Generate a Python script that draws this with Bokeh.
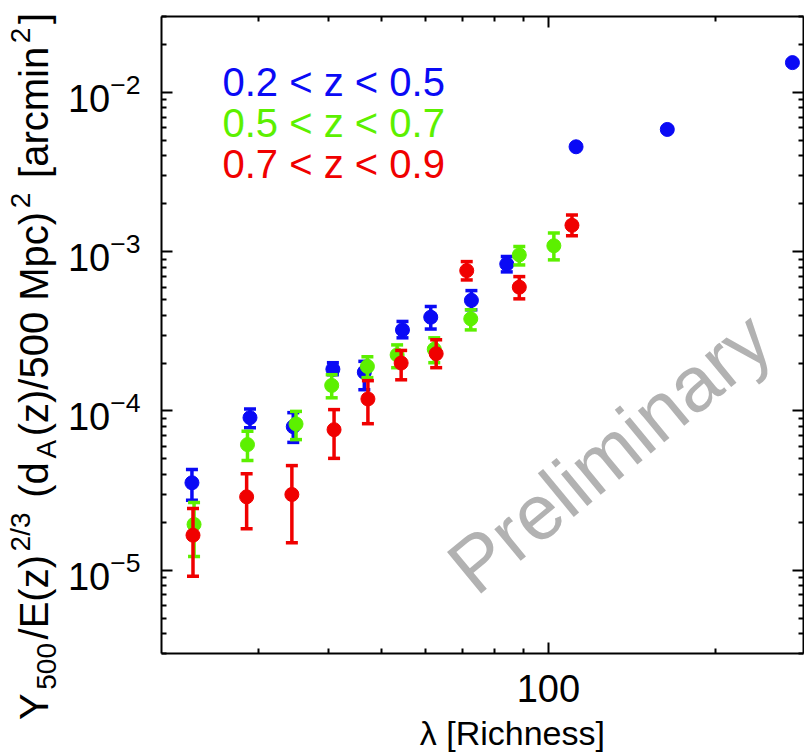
import math
from bokeh.plotting import figure
from bokeh.layouts import row, column
from bokeh.models import (Label, LogAxis, FixedTicker, BasicTickFormatter,
                          CustomJSTickFormatter, Range1d)
from bokeh.embed import file_html
from bokeh.resources import INLINE

# ---------------- data ----------------
lam_b = [22.7, 28.9, 34.6, 40.8, 46.5, 54.5, 61.3, 72.6, 84.1, 112.2, 164.0, 276.0]
y_b = [3.54e-5, 9.08e-5, 7.97e-5, 1.83e-4, 1.75e-4, 3.23e-4, 3.88e-4, 4.95e-4, 8.36e-4, 4.56e-3, 5.86e-3, 1.54e-2]
lo_b = [2.75e-5, 7.86e-5, 6.35e-5, 1.69e-4, 1.36e-4, 2.88e-4, 3.27e-4, 4.32e-4, 7.47e-4, 4.42e-3, 5.68e-3, 1.49e-2]
hi_b = [4.29e-5, 1.03e-4, 9.76e-5, 2.01e-4, 2.05e-4, 3.65e-4, 4.53e-4, 5.70e-4, 9.32e-4, 4.70e-3, 6.04e-3, 1.59e-2]

lam_g = [22.9, 28.6, 35.0, 40.6, 47.1, 53.3, 62.2, 72.4, 88.6, 102.3]
y_g = [1.94e-5, 6.15e-5, 8.29e-5, 1.447e-4, 1.904e-4, 2.25e-4, 2.44e-4, 3.79e-4, 9.55e-4, 1.09e-3]
lo_g = [1.22e-5, 4.88e-5, 6.61e-5, 1.21e-4, 1.62e-4, 1.87e-4, 2.01e-4, 3.23e-4, 8.26e-4, 8.89e-4]
hi_g = [2.66e-5, 7.45e-5, 9.94e-5, 1.69e-4, 2.19e-4, 2.60e-4, 2.88e-4, 4.32e-4, 1.08e-3, 1.31e-3]

lam_r = [22.8, 28.5, 34.4, 41.0, 47.2, 54.2, 62.7, 71.2, 88.6, 110.3]
y_r = [1.66e-5, 2.89e-5, 2.99e-5, 7.63e-5, 1.19e-4, 2.00e-4, 2.29e-4, 7.61e-4, 5.99e-4, 1.466e-3]
lo_r = [9.18e-6, 1.82e-5, 1.49e-5, 5.04e-5, 8.32e-5, 1.57e-4, 1.87e-4, 6.65e-4, 5.06e-4, 1.26e-3]
hi_r = [2.44e-5, 4.03e-5, 4.54e-5, 1.02e-4, 1.55e-4, 2.40e-4, 2.80e-4, 8.67e-4, 6.98e-4, 1.70e-3]

series_labels = ["0.2 < z < 0.5", "0.5 < z < 0.7", "0.7 < z < 0.9"]
series_colors = ["#0a0af5", "#5cf000", "#f00000"]

x_major = [100]
x_minor = [30, 40, 50, 60, 70, 80, 90, 200]
y_major = [1e-5, 1e-4, 1e-3, 1e-2]
y_minor = [m * 10.0 ** e for e in (-6, -5, -4, -3, -2) for m in range(2, 10)
           if 3e-6 <= m * 10.0 ** e <= 3e-2]

x_title = "λ [Richness]"
watermark = "Preliminary"

FONT = "Liberation Sans"
WIN_W, WIN_H = 804, 753
LBL_W = 63                 # strip holding the rotated y label (full height)
XT_H = 42                  # strip holding the x-axis title
MAIN_W = WIN_W - LBL_W
MAIN_H = WIN_H - XT_H

# ---------------- main figure ----------------
p = figure(width=MAIN_W, height=MAIN_H, x_axis_type="log", y_axis_type="log",
           x_range=(20, 289), y_range=(3e-6, 3e-2),
           output_backend="svg", toolbar_location=None,
           min_border_left=161 - LBL_W, min_border_right=1,
           min_border_top=16, min_border_bottom=MAIN_H - 653)
p.outline_line_color = None
p.xgrid.visible = False
p.ygrid.visible = False


def style_axis(ax, labels=True):
    ax.axis_line_width = 2
    ax.axis_line_color = "black"
    ax.major_tick_in = 11
    ax.major_tick_out = 0
    ax.minor_tick_in = 5
    ax.minor_tick_out = 0
    ax.major_tick_line_width = 2
    ax.minor_tick_line_width = 2
    ax.major_tick_line_color = "black"
    ax.minor_tick_line_color = "black"
    ax.major_label_text_font = FONT
    ax.major_label_text_color = "black"
    if labels:
        ax.major_label_text_font_size = "38px"
    else:
        ax.major_label_text_font_size = "0px"
        ax.major_label_standoff = 0


xa = p.xaxis[0]
xa.ticker = FixedTicker(ticks=x_major, minor_ticks=x_minor)
xa.formatter = BasicTickFormatter()
style_axis(xa)
xa.major_label_standoff = 21

ya = p.yaxis[0]
ya.ticker = FixedTicker(ticks=y_major, minor_ticks=y_minor)
style_axis(ya)
ya.major_label_standoff = 21

top = LogAxis(ticker=FixedTicker(ticks=x_major, minor_ticks=x_minor),
              formatter=CustomJSTickFormatter(code="return ''"))
style_axis(top, labels=False)
p.add_layout(top, "above")

right = LogAxis(ticker=FixedTicker(ticks=y_major, minor_ticks=y_minor),
                formatter=CustomJSTickFormatter(code="return ''"))
style_axis(right, labels=False)
p.add_layout(right, "right")

# ---------------- data marks ----------------
for lam, y, lo, hi, c in [(lam_b, y_b, lo_b, hi_b, series_colors[0]),
                          (lam_g, y_g, lo_g, hi_g, series_colors[1]),
                          (lam_r, y_r, lo_r, hi_r, series_colors[2])]:
    p.segment(x0=lam, y0=lo, x1=lam, y1=hi, line_color=c, line_width=3.5)
    p.scatter(x=lam + lam, y=lo + hi, marker="dash", size=12,
              line_color=c, line_width=3.5)
    p.scatter(x=lam, y=y, marker="circle", size=14,
              fill_color=c, line_color=c)

# ---------------- in-plot legend text ----------------
FRAME_L, FRAME_B = 161, 653  # frame position in the window (screen units)
for i, (txt, c) in enumerate(zip(series_labels, series_colors)):
    p.add_layout(Label(x=222 - FRAME_L, y=FRAME_B - (81 + 41 * i),
                       x_units="screen", y_units="screen", text=txt,
                       text_color=c, text_font=FONT, text_font_size="40px",
                       text_align="left", text_baseline="middle"))

# ---------------- watermark ----------------
p.add_layout(Label(x=609 - FRAME_L, y=FRAME_B - 452, x_units="screen",
                   y_units="screen", text=watermark, angle=0.69,
                   text_align="center", text_baseline="middle",
                   text_font=FONT, text_font_size="78px",
                   text_color="#b2b2b2"))

# ---------------- rotated y-axis label (left strip, full height) ----------------
lf = figure(width=LBL_W, height=WIN_H, x_range=Range1d(0, LBL_W),
            y_range=Range1d(0, WIN_H), output_backend="svg",
            toolbar_location=None, min_border=0,
            x_axis_location=None, y_axis_location=None)
lf.outline_line_color = None
lf.xgrid.visible = False
lf.ygrid.visible = False

W = {' ': 278, '(': 333, ')': 333, '/': 278, '0': 556, '2': 556, '3': 556,
     '5': 556, 'A': 667, 'E': 667, 'M': 833, 'Y': 667, '[': 278, ']': 278,
     'a': 556, 'c': 500, 'd': 556, 'i': 222, 'm': 833, 'n': 556, 'p': 556,
     'r': 333, 'z': 500}
FS = 40
SCR = 0.7
PAD = 0.09 * FS    # extra room around each sub/superscript
pieces = [("Y", "n"), ("500", "sub"), ("/E(z)", "n"), ("2/3", "sup"),
          (" ", "gap"), ("(d", "n"), ("A", "sub"), ("(z)/500 Mpc)", "n"),
          ("2", "sup"), (" ", "gap"), ("[arcmin", "n"), ("2", "sup"),
          ("]", "n")]


def tw(s, size):
    return sum(W[ch] for ch in s) / 1000.0 * size


lens = []
for t, k in pieces:
    if k in ("sub", "sup"):
        lens.append(tw(t, FS * SCR) + 2 * PAD)
    else:
        lens.append(tw(t, FS))
L = sum(lens)
center_y = 366     # window y of the label centre
base_x = 47        # window x of the main baseline
pos = center_y + L / 2
for (t, k), ln in zip(pieces, lens):
    if k != "gap":
        size = FS * SCR if k in ("sub", "sup") else FS
        xb = base_x + (0.22 * FS if k == "sub" else (-0.42 * FS if k == "sup" else 0))
        xm = xb - 0.35 * size
        ym = pos - ln / 2          # centre of this piece along the text
        lf.add_layout(Label(x=xm, y=WIN_H - ym, text=t, angle=math.pi / 2,
                            text_align="center", text_baseline="middle",
                            text_font=FONT, text_font_size=f"{size:.1f}px",
                            text_color="black"))
    pos -= ln

# ---------------- x-axis title (bottom strip under the main figure) ----------------
xf = figure(width=MAIN_W, height=XT_H, x_range=Range1d(0, MAIN_W),
            y_range=Range1d(0, XT_H), output_backend="svg",
            toolbar_location=None, min_border=0,
            x_axis_location=None, y_axis_location=None)
xf.outline_line_color = None
xf.xgrid.visible = False
xf.ygrid.visible = False
xf.add_layout(Label(x=405, y=WIN_H - 732, text=x_title,
                    text_align="center", text_baseline="middle",
                    text_font=FONT, text_font_size="34px", text_color="black"))

layout = row(lf, column(p, xf))
open("out.html", "w").write(file_html(layout, INLINE))
